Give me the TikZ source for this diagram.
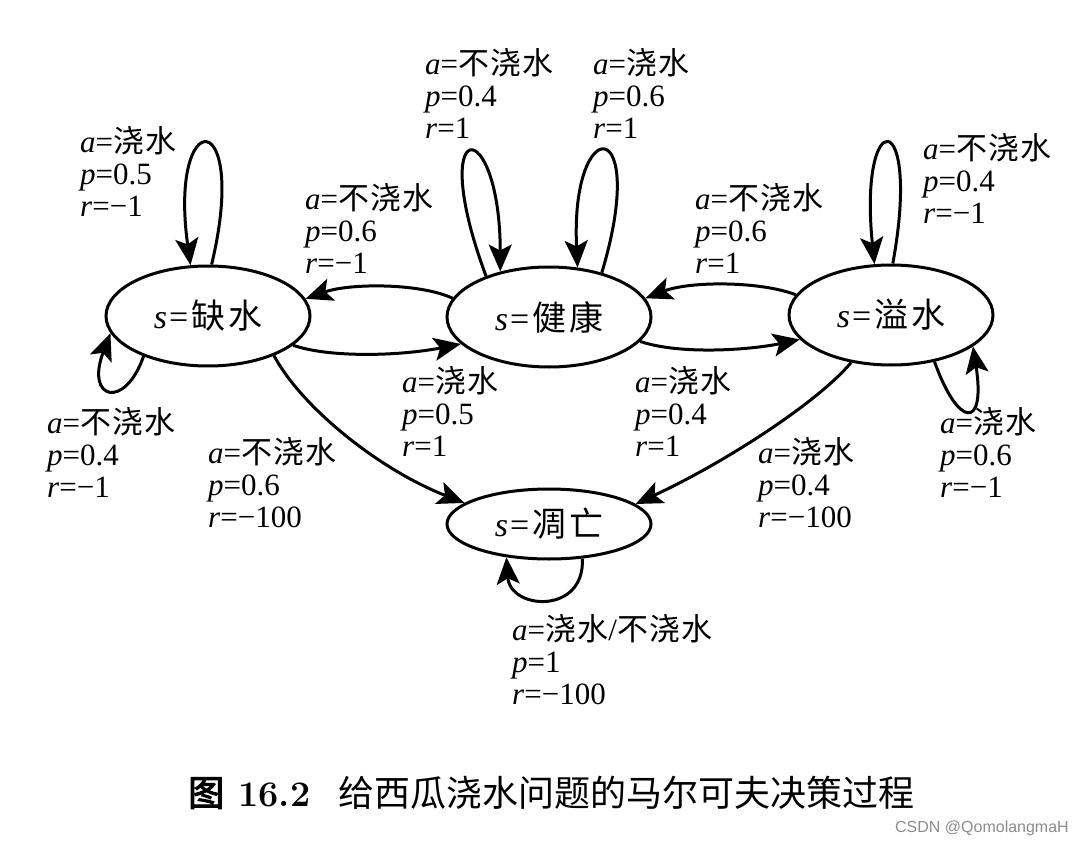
\documentclass[tikz,border=0pt]{standalone}
\usepackage{fontspec}
\newfontfamily\tnr{Liberation Serif}
\newfontfamily\cjk[LetterSpace=4]{Noto Sans CJK SC}
\newfontfamily\cjks[LetterSpace=8]{Noto Sans CJK SC}
\newfontfamily\cjkc{Noto Sans CJK SC}
\newfontfamily\cjkb[FakeBold=3]{Noto Sans CJK SC}
\newfontfamily\wmfont{Liberation Sans}
\usetikzlibrary{shapes.geometric,arrows.meta}
\newcommand\lbl[3]{\vtop{\baselineskip=32pt\lineskiplimit=-100pt\hbox{#1}\hbox{#2}\hbox{#3}}}
\newcommand\myA[1]{\textit{a}={\cjk #1}}
\newcommand\myP[1]{\textit{p}=#1}
\newcommand\myR[1]{\textit{r}=#1}
\newcommand\myS[1]{\textit{s}\kern2pt=\kern3pt{\cjks #1}}
\tikzset{
  state/.style={draw, line width=3pt, ellipse, minimum width=204pt, minimum height=100pt,
    inner sep=0pt, font=\tnr\fontsize{34}{38}\selectfont},
  arr/.style={line width=3pt, -{Stealth[length=27pt,width=23pt,inset=6pt]}},
  lab/.style={anchor=base west, inner sep=0pt, font=\tnr\fontsize{31}{32}\selectfont},
}
\begin{document}
\begin{tikzpicture}[x=1pt,y=-1pt]
\fill[white] (0,0) rectangle (1084,845);
\useasboundingbox (0,0) rectangle (1084,845);

% states
\node[state] (A) at (208,316) {\myS{缺水}};
\node[state] (B) at (549,317) {\myS{健康}};
\node[state] (C) at (891,315) {\myS{溢水}};
\node[state, minimum height=70pt] (D) at (549,524) {\myS{凋亡}};

% self loops
\draw[arr] (A.86) .. controls (250,104) and (168,104) .. (A.109);
\draw[arr] (A.212) .. controls (125,410) and (85,400) .. (A.190);
\draw[arr] (B.147) .. controls (425,112) and (500,112) .. (B.137);
\draw[arr] (B.40) .. controls (650,112) and (570,112) .. (B.60);
\draw[arr] (C.88) .. controls (922,104) and (858,104) .. (C.108);
\draw[arr] (C.-47) .. controls (958,428) and (986,430) .. (C.-21);
\draw[arr] (D.-46) .. controls (585,615) and (510,610) .. (D.218);

% transitions
\draw[arr] (A.-19) .. controls (330,358) and (400,356) .. (B.197);
\draw[arr] (B.169) .. controls (420,283) and (350,283) .. (A.10);
\draw[arr] (B.-15) .. controls (680,355) and (750,350) .. (C.195);
\draw[arr] (C.168) .. controls (760,281) and (690,281) .. (B.11);
\draw[arr] (A.-31) .. controls (302,408) and (380,470) .. (D.166);
\draw[arr] (C.230) .. controls (820,400) and (730,460) .. (D.13);

% labels
\node[lab] (L1) at (80,153) {\lbl{\myA{浇水}}{\myP{0.5}}{\myR{−1}}};
\node[lab] (L2) at (47,433) {\lbl{\myA{不浇水}}{\myP{0.4}}{\myR{−1}}};
\node[lab] (L3) at (305,210) {\lbl{\myA{不浇水}}{\myP{0.6}}{\myR{−1}}};
\node[lab] (L4) at (402,392) {\lbl{\myA{浇水}}{\myP{0.5}}{\myR{1}}};
\node[lab] (L5) at (208,463) {\lbl{\myA{不浇水}}{\myP{0.6}}{\myR{−100}}};
\node[lab] (L6) at (425,75) {\lbl{\myA{不浇水}}{\myP{0.4}}{\myR{1}}};
\node[lab] (L7) at (593,75) {\lbl{\myA{浇水}}{\myP{0.6}}{\myR{1}}};
\node[lab] (L8) at (695,210) {\lbl{\myA{不浇水}}{\myP{0.6}}{\myR{1}}};
\node[lab] (L9) at (635,392) {\lbl{\myA{浇水}}{\myP{0.4}}{\myR{1}}};
\node[lab] (L10) at (923,160) {\lbl{\myA{不浇水}}{\myP{0.4}}{\myR{−1}}};
\node[lab] (L11) at (940,433) {\lbl{\myA{浇水}}{\myP{0.6}}{\myR{−1}}};
\node[lab] (L12) at (758,463) {\lbl{\myA{浇水}}{\myP{0.4}}{\myR{−100}}};
\node[lab] (L13) at (512,640) {\lbl{\textit{a}={\cjk 浇水}/{\cjk 不浇水}}{\myP{1}}{\myR{−100}}};

% caption
\node[anchor=base west, inner sep=0pt, font=\fontsize{36}{40}\selectfont] (cap) at (188,806)
  {{\cjkb 图}\hspace{14pt}{\bfseries 16.2}\hspace{28pt}{\cjkc 给西瓜浇水问题的马尔可夫决策过程}};
\node[anchor=base east, inner sep=0pt, text=black!45, font=\wmfont\fontsize{16}{18}\selectfont] (wm) at (1069,832) {CSDN @QomolangmaH};
\end{tikzpicture}
\end{document}
